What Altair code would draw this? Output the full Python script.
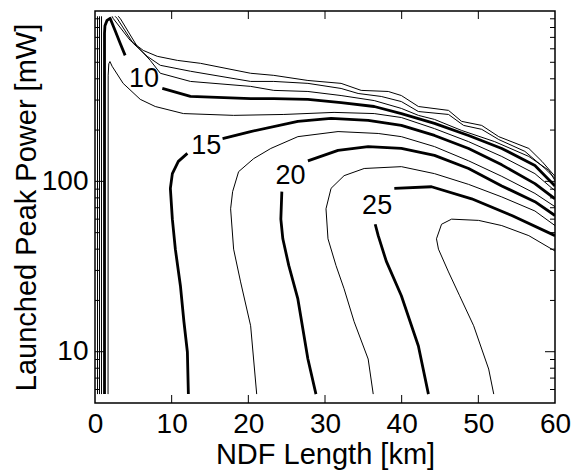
import altair as alt
import pandas as pd

FONT = "Liberation Sans"

# ---- contour lines (x = NDF length [km], p = launched peak power [mW]) ----
c2_5a_x = [0.33, 0.33]
c2_5a_p = [5.64, 931]
c2_5b_x = [2.23, 2.36, 4.59, 6.29, 8.12, 10.74, 13.76, 20.30, 23.32, 27.77, 32.10, 34.72, 38.25, 39.96, 42.18, 46.11, 47.82, 50.44, 52.66, 56.59, 58.30, 60]
c2_5b_p = [931, 906, 672, 587, 542, 513, 493, 431, 419, 391, 376, 342, 337, 319, 275, 261, 225, 213, 183, 156, 131, 107]

c5a_x = [0.59, 0.59]
c5a_p = [5.64, 931]
c5b_x = [2.62, 2.88, 4.98, 6.81, 8.52, 12.45, 20.30, 23.32, 27.77, 32.10, 34.32, 37.34, 39.96, 42.18, 46.11, 48.08, 50.44, 52.66, 56.07, 58.69, 60]
c5b_p = [931, 906, 646, 542, 480, 443, 386, 386, 376, 351, 328, 315, 294, 257, 247, 213, 202, 176, 150, 119, 104]

c7_5a_x = [0.85, 0.85]
c7_5a_p = [5.64, 931]
c7_5b_x = [3.01, 3.28, 5.50, 7.21, 8.52, 12.45, 20.30, 23.32, 27.77, 32.10, 36.42, 39.96, 42.18, 44.28, 47.82, 52.14, 56.59, 59.21, 60]
c7_5b_p = [931, 906, 620, 513, 431, 386, 361, 342, 337, 319, 298, 268, 244, 231, 199, 171, 140, 116, 101]

c10a_x = [1.24, 1.24, 1.30, 1.57, 1.97, 2.62, 3.28, 3.93]
c10a_p = [5.64, 740, 820, 881, 906, 769, 646, 549]
c10b_x = [8.78, 12.45, 20.30, 23.32, 27.77, 32.10, 36.42, 39.96, 44.28, 48.73, 53.06, 57.38, 60]
c10b_p = [351, 315, 306, 306, 303, 290, 275, 250, 219, 186, 156, 124, 94]

c12_5_x = [1.70, 1.72, 1.80, 1.95, 2.23, 3.67, 5.90, 7.86, 11.53, 18.08, 24.63, 31.18, 36.42, 39.96, 44.28, 48.73, 53.06, 57.38, 60]
c12_5_p = [5.64, 420, 490, 505, 474, 376, 303, 275, 250, 244, 247, 254, 250, 237, 204, 171, 140, 111, 88]

c15a_x = [12.18, 12.05, 11.60, 11.14, 10.48, 10.09, 9.83, 10.09, 10.87, 12.05]
c15a_p = [5.64, 9.96, 15, 24.4, 40, 60, 91, 111, 131, 146]
c15b_x = [16.64, 20.30, 26.46, 30.79, 35.63, 39.96, 44.28, 48.73, 53.06, 57.38, 60]
c15b_p = [178, 196, 225, 234, 228, 213, 186, 156, 125, 97, 79]

c17_5_x = [21.09, 20.30, 18.99, 18.08, 17.69, 17.95, 18.73, 20.70, 22.93, 26.46, 31.70, 36.94, 39.96, 44.28, 48.73, 53.06, 57.38, 60]
c17_5_p = [5.64, 14.2, 25.7, 40, 69, 87, 114, 136, 156, 183, 196, 191, 183, 160, 132, 107, 85, 71]

c20a_x = [28.82, 27.77, 26.46, 25.28, 24.50, 24.24, 24.37]
c20a_p = [5.64, 9.06, 20.4, 32, 46, 60, 87]
c20b_x = [27.77, 31.70, 35.63, 39.96, 44.28, 48.73, 53.06, 57.38, 60]
c20b_p = [132, 152, 160, 156, 142, 119, 94, 76, 63]

c22_5_x = [36.29, 35.63, 33.80, 32.49, 31.44, 30.39, 30.13, 30.79, 32.49, 35.11, 39.96, 44.28, 48.73, 53.06, 57.38, 60]
c22_5_p = [5.64, 9.06, 15, 23.4, 32, 46, 69, 91, 108, 119, 122, 111, 96, 81, 67, 55]

c25a_x = [43.49, 42.18, 39.96, 37.99, 36.94, 36.55]
c25a_p = [5.64, 10.8, 21.3, 34, 48, 56]
c25b_x = [39.04, 43.89, 49.13, 54.37, 60]
c25b_p = [91, 93, 79, 63, 48]

c27_5_x = [52.01, 51.35, 49.39, 47.56, 46.11, 44.80, 44.54, 45.20, 46.51, 50.04, 53.06, 56.59, 60]
c27_5_p = [5.64, 7.91, 14.2, 21.3, 29.4, 40, 46, 56, 60, 59, 55, 48, 39]

# contour labels
label_text = ["10", "15", "20", "25"]
label_x = [6.4, 14.5, 25.5, 36.8]
label_p = [399, 161, 107, 72]

# axis ticks
x_tick_values = [0, 10, 20, 30, 40, 50, 60]
x_inner_ticks = [10, 20, 30, 40, 50]
y_tick_values = [10, 100]
y_minor_ticks = [6, 7, 8, 9, 20, 30, 40, 50, 60, 70, 80, 90, 200, 300, 400, 500, 600, 700, 800, 900]

thin_segments = {
    "2.5a": (c2_5a_x, c2_5a_p), "2.5b": (c2_5b_x, c2_5b_p),
    "5a": (c5a_x, c5a_p), "5b": (c5b_x, c5b_p),
    "7.5a": (c7_5a_x, c7_5a_p), "7.5b": (c7_5b_x, c7_5b_p),
    "12.5": (c12_5_x, c12_5_p), "17.5": (c17_5_x, c17_5_p),
    "22.5": (c22_5_x, c22_5_p), "27.5": (c27_5_x, c27_5_p),
}
thick_segments = {
    "10a": (c10a_x, c10a_p), "10b": (c10b_x, c10b_p),
    "15a": (c15a_x, c15a_p), "15b": (c15b_x, c15b_p),
    "20a": (c20a_x, c20a_p), "20b": (c20b_x, c20b_p),
    "25a": (c25a_x, c25a_p), "25b": (c25b_x, c25b_p),
}


def to_frame(segs):
    rows = []
    for name, (xs, ps) in segs.items():
        for i, (xv, pv) in enumerate(zip(xs, ps)):
            rows.append({"seg": name, "i": i, "x": xv, "p": pv})
    return pd.DataFrame(rows)


df_thin = to_frame(thin_segments)
df_thick = to_frame(thick_segments)
df_labels = pd.DataFrame({"x": label_x, "p": label_p, "t": label_text})
df_xt = pd.DataFrame({"x": x_inner_ticks})
df_ymaj = pd.DataFrame({"p": y_tick_values})
df_ymin = pd.DataFrame({"p": y_minor_ticks})

W, H = 460, 392

xscale = alt.Scale(domain=[0, 60], nice=False, zero=False)
yscale = alt.Scale(type="log", domain=[5, 1000], nice=False)

xaxis = alt.Axis(
    values=x_tick_values, format="d", ticks=False, tickSize=0, domain=False, grid=False,
    labelFont=FONT, labelFontSize=28, labelPadding=7, labelColor="black", labelFlush=False,
    title="NDF Length [km]", titleFont=FONT, titleFontSize=29, titleFontWeight="normal",
    titleColor="black", titleBaseline="alphabetic", titleY=60,
)
yaxis = alt.Axis(
    values=y_tick_values, format="d", ticks=False, tickSize=0, domain=False, grid=False,
    labelFont=FONT, labelFontSize=28, labelPadding=7, labelColor="black", labelFlush=False,
    title="Launched Peak Power [mW]", titleFont=FONT, titleFontSize=29, titleFontWeight="normal",
    titleColor="black", titleAngle=270, titleBaseline="alphabetic", titleAlign="center",
    titleX=-60, titleY=196,
)

X = alt.X("x:Q", scale=xscale, axis=xaxis)
Y = alt.Y("p:Q", scale=yscale, axis=yaxis)

thin = alt.Chart(df_thin).mark_line(color="black", strokeWidth=1, strokeJoin="round", clip=True).encode(
    x=X, y=Y, detail="seg:N", order="i:Q")
thick = alt.Chart(df_thick).mark_line(color="black", strokeWidth=2.8, strokeJoin="round", clip=True).encode(
    x=X, y=Y, detail="seg:N", order="i:Q")
labels = alt.Chart(df_labels).mark_text(font=FONT, fontSize=27, color="black", align="center",
                                        baseline="middle").encode(x=X, y=Y, text="t:N")

tick_bottom = alt.Chart(df_xt).mark_rule(color="black", strokeWidth=1).encode(
    x=X, y=alt.value(H), y2=alt.value(H - 8))
tick_top = alt.Chart(df_xt).mark_rule(color="black", strokeWidth=1).encode(
    x=X, y=alt.value(0), y2=alt.value(8))
tick_left_major = alt.Chart(df_ymaj).mark_rule(color="black", strokeWidth=1).encode(
    y=Y, x=alt.value(0), x2=alt.value(10))
tick_right_major = alt.Chart(df_ymaj).mark_rule(color="black", strokeWidth=1).encode(
    y=Y, x=alt.value(W), x2=alt.value(W - 10))
tick_left_minor = alt.Chart(df_ymin).mark_rule(color="black", strokeWidth=1).encode(
    y=Y, x=alt.value(0), x2=alt.value(5))
tick_right_minor = alt.Chart(df_ymin).mark_rule(color="black", strokeWidth=1).encode(
    y=Y, x=alt.value(W), x2=alt.value(W - 5))

chart = alt.layer(
    thin, thick, labels, tick_bottom, tick_top,
    tick_left_major, tick_right_major, tick_left_minor, tick_right_minor,
).properties(
    width=W, height=H,
    autosize=alt.AutoSizeParams(type="none"),
    padding={"left": 95, "top": 11, "right": 18, "bottom": 69},
    background="white",
).configure_view(
    stroke="black", strokeWidth=1.5,
)

chart.save("out.html", embed_options={"renderer": "svg", "actions": False})
